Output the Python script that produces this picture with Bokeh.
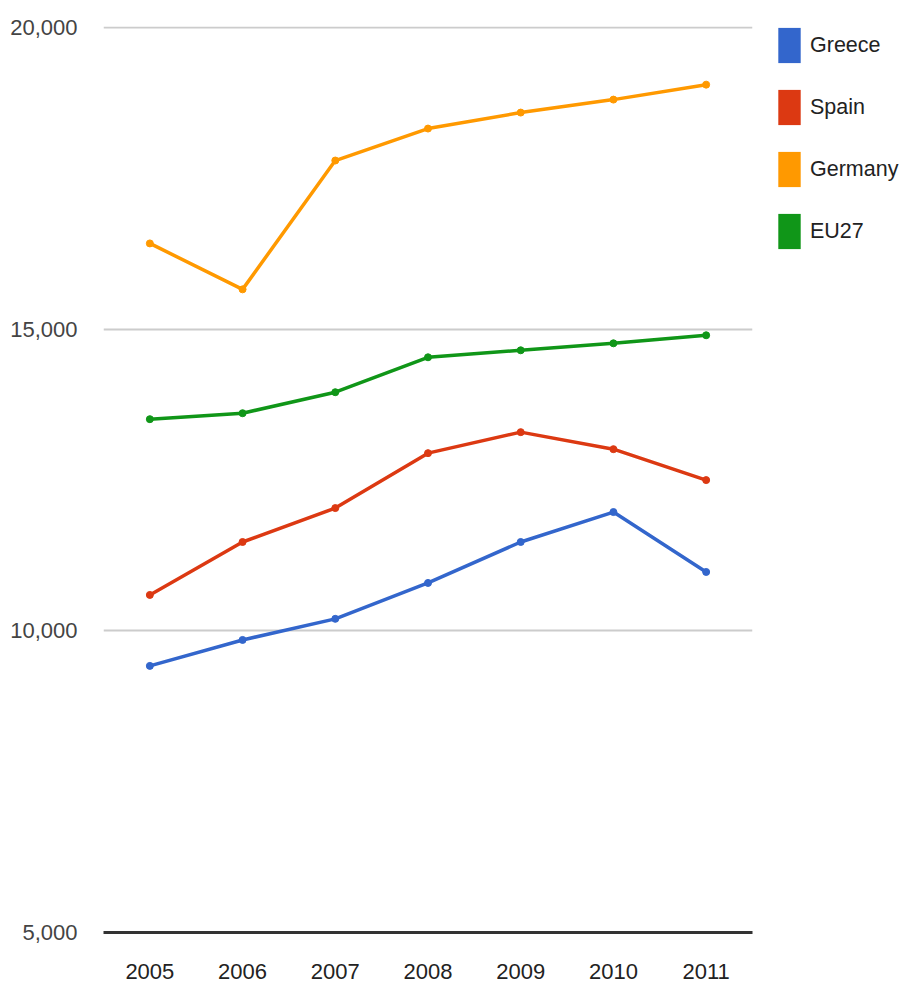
from bokeh.plotting import figure
from bokeh.models import (Range1d, FixedTicker, NumeralTickFormatter, Legend, LegendItem,
                          ColumnDataSource)
from bokeh.embed import file_html
from bokeh.resources import INLINE

years = [2005, 2006, 2007, 2008, 2009, 2010, 2011]
greece = [9420, 9850, 10200, 10795, 11474, 11970, 10977]
spain = [10596, 11474, 12036, 12947, 13295, 13013, 12500]
germany = [16424, 15662, 17798, 18328, 18593, 18808, 19056]
eu27 = [13510, 13609, 13957, 14536, 14652, 14768, 14901]

series_names = ["Greece", "Spain", "Germany", "EU27"]
series_values = [greece, spain, germany, eu27]
colors = ["#3366cc", "#dc3912", "#ff9900", "#109618"]
y_ticks = [5000, 10000, 15000, 20000]

FONT = "Liberation Sans"
NAN = float("nan")

p = figure(frame_width=649, frame_height=906, min_border_left=103, min_border_top=26,
           min_border_bottom=50, min_border_right=148,
           x_range=Range1d(2004.5, 2011.5), y_range=Range1d(5000, 20020),
           output_backend="svg", toolbar_location=None)
p.outline_line_color = None
p.background_fill_color = "white"
p.border_fill_color = "white"

p.xgrid.grid_line_color = None
p.ygrid.grid_line_color = "#cccccc"
p.ygrid.grid_line_width = 2
p.ygrid.ticker = FixedTicker(ticks=y_ticks)

p.yaxis.ticker = FixedTicker(ticks=y_ticks)
p.yaxis.formatter = NumeralTickFormatter(format="0,0")
p.yaxis.axis_line_color = None
p.yaxis.major_tick_line_color = None
p.yaxis.minor_tick_line_color = None
p.yaxis.major_label_standoff = 20
p.yaxis.major_label_text_font = FONT
p.yaxis.major_label_text_font_size = "22px"
p.yaxis.major_label_text_color = "#444444"

p.xaxis.ticker = FixedTicker(ticks=years)
p.xaxis.axis_line_color = "#333333"
p.xaxis.axis_line_width = 3
p.xaxis.major_tick_line_color = None
p.xaxis.minor_tick_line_color = None
p.xaxis.major_label_standoff = 25
p.xaxis.major_label_text_font = FONT
p.xaxis.major_label_text_font_size = "22px"
p.xaxis.major_label_text_color = "#222222"

items = []
for name, vals, c in zip(series_names, series_values, colors):
    src = ColumnDataSource(dict(x=years, y=vals))
    p.line("x", "y", source=src, line_color=c, line_width=3.5)
    p.scatter("x", "y", source=src, size=7, marker="circle", fill_color=c, line_color=c)
    sw = p.quad(left=[NAN], right=[NAN], top=[NAN], bottom=[NAN], fill_color=c, line_color=None)
    items.append(LegendItem(label=name, renderers=[sw]))

legend = Legend(items=items, location=(23, 679), padding=0, margin=0, spacing=18,
                glyph_width=28, glyph_height=44, label_standoff=7,
                label_text_font=FONT, label_text_font_size="21.5px",
                label_text_color="#222222", label_height=44,
                background_fill_alpha=0, border_line_color=None)
p.add_layout(legend, "right")

open("out.html", "w").write(file_html(p, INLINE))
